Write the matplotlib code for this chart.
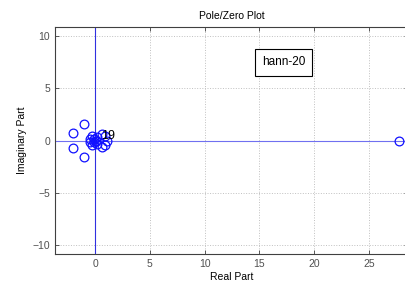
import matplotlib
matplotlib.use("Agg")
import matplotlib.pyplot as plt
import numpy as np

# zeros of the filter
zeros_re = [27.8, -2.0, -2.0, -1.0, -1.0,
            0.036, -0.44, -0.44, -0.28, -0.28,
            1.1, 0.9, 0.9, 0.6, 0.6, 0.2, 0.2, -0.1, -0.1]
zeros_im = [0.0, 0.75, -0.75, 1.6, -1.6,
            0.0, 0.16, -0.16, 0.45, -0.45,
            0.0, 0.4, -0.4, 0.65, -0.65, 0.3, -0.3, 0.15, -0.15]
# 19 poles at the origin
poles_re = [0.0]
poles_im = [0.0]
pole_count = "19"
legend_text = "hann-20"

plt.rcParams["font.family"] = ["Liberation Sans", "DejaVu Sans"]
fig = plt.figure(figsize=(4.06, 2.88), dpi=100)
ax = fig.add_axes([0.1355, 0.118, 0.87, 0.788])

ax.axvline(0, color="#3030e0", lw=0.8, zorder=1)
ax.axhline(0, color="#7070f0", lw=0.8, zorder=1)
ax.plot(zeros_re, zeros_im, "o", mfc="none", mec="#1010ff", ms=6.3, mew=0.9, zorder=3)
ax.plot(poles_re, poles_im, "x", color="#1010ff", ms=6, mew=0.9, zorder=3)
ax.text(poles_re[0] + 0.5, poles_im[0] + 0.15, pole_count, fontsize=9, color="black", zorder=4)

ax.text(17.2, 7.5, legend_text, fontsize=8.5, ha="center", va="center",
        bbox=dict(boxstyle="square,pad=0.6", fc="white", ec="black", lw=0.8))

ax.set_xlim(-3.67, 28.6)
ax.set_ylim(-10.9, 10.9)
ax.set_xticks([0, 5, 10, 15, 20, 25])
ax.set_yticks([-10, -5, 0, 5, 10])
ax.grid(True, color="#c0c0c0", ls=":", lw=0.7)
ax.set_axisbelow(True)
ax.tick_params(direction="in", top=True, right=True, length=3, labelsize=7.5,
               colors="#404040", labelcolor="#505050", width=0.6)
for s in ax.spines.values():
    s.set_color("#404040")
    s.set_linewidth(0.8)
ax.spines["right"].set_visible(False)

ax.set_title("Pole/Zero Plot", fontsize=7.5, pad=6)
ax.set_xlabel("Real Part", fontsize=7.5, labelpad=2)
ax.set_ylabel("Imaginary Part", fontsize=7.5, labelpad=4)

fig.savefig("out.png", dpi=100)
